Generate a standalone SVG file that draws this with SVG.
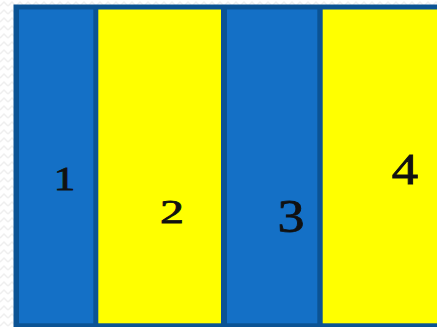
<svg xmlns="http://www.w3.org/2000/svg" width="437" height="327" viewBox="0 0 437 327">
  <style>
    .blue { fill: #1470c6; }
    .yellow { fill: #ffff00; }
    .num { font-family: "Liberation Serif", "Times New Roman", serif; fill: #111111; stroke: #111111; stroke-width: 0.8; text-anchor: middle; }
  </style>
  <defs>
    <pattern id="bg" width="8" height="8" patternUnits="userSpaceOnUse">
      <rect width="8" height="8" fill="#ffffff"/>
      <path d="M0 6 L4 2 L8 6" fill="none" stroke="#efefef" stroke-width="1.5"/>
    </pattern>
  </defs>
  <rect x="0" y="0" width="437" height="327" fill="url(#bg)"/>
  <rect id="frame" x="13.5" y="4.5" width="424" height="323" fill="#0b5394"/>
  <g id="col1">
    <rect class="blue" x="19" y="9.5" width="74.3" height="313.8"/>
    <text class="num" transform="translate(64.5 190) scale(1.3 1)" font-size="33">1</text>
  </g>
  <g id="col2">
    <rect class="yellow" x="98.3" y="9.5" width="122.7" height="313.8"/>
    <text class="num" transform="translate(172 222.5) scale(1.45 1)" font-size="33">2</text>
  </g>
  <g id="col3">
    <rect class="blue" x="227" y="9.5" width="90.3" height="313.8"/>
    <text class="num" transform="translate(291 231.5) scale(1.15 1)" font-size="47">3</text>
  </g>
  <g id="col4">
    <rect class="yellow" x="322.7" y="9.5" width="114.3" height="313.8"/>
    <text class="num" transform="translate(405 183.5) scale(1.2 1)" font-size="44">4</text>
  </g>
</svg>
